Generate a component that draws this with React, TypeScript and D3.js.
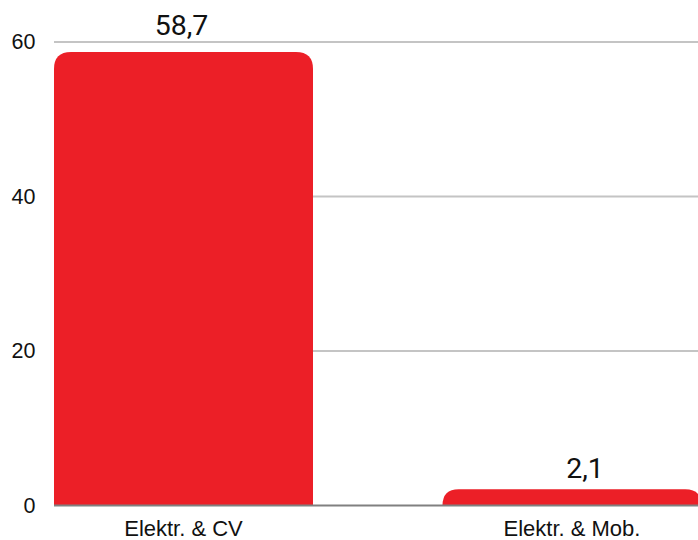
import { useMemo } from "react";
import * as d3 from "d3";

const WIDTH = 698;
const HEIGHT = 540;
const PLOT = { left: 54, right: 698, top: 42, bottom: 505.5 };
const RADIUS = 17;
const BAR_COLOR = "#ec1f27";

const categories = ["Elektr. & CV", "Elektr. & Mob."];
const values = [58.7, 2.1];
const valueLabels = ["58,7", "2,1"];
const yTicks = [0, 20, 40, 60];

// bar with rounded top corners only, radius clamped to the bar height
const topRoundedRect = (x: number, y: number, w: number, h: number, r: number) => {
  const rr = Math.min(r, h, w / 2);
  return `M${x},${y + h}V${y + rr}Q${x},${y} ${x + rr},${y}H${x + w - rr}Q${x + w},${y} ${x + w},${y + rr}V${y + h}Z`;
};

export default function App() {
  const xScale = useMemo(
    () =>
      d3
        .scaleBand<string>()
        .domain(categories)
        .range([-10.75, 766.25])
        .paddingInner(1 / 3)
        .paddingOuter(1 / 6),
    []
  );

  const yScale = useMemo(
    () => d3.scaleLinear().domain([0, 60]).range([PLOT.bottom, PLOT.top]),
    []
  );

  return (
    <svg
      width={WIDTH}
      height={HEIGHT}
      style={{ position: "absolute", left: 0, top: 0, background: "#fff" }}
    >
      {/* grid */}
      {yTicks
        .filter((t) => t !== 0)
        .map((t) => (
          <line
            key={t}
            x1={PLOT.left}
            x2={PLOT.right}
            y1={yScale(t)}
            y2={yScale(t)}
            stroke="#c4c4c4"
            strokeWidth={2}
          />
        ))}

      {/* y tick labels */}
      {yTicks.map((t) => (
        <text
          key={t}
          x={35.5}
          y={yScale(t)}
          textAnchor="end"
          dominantBaseline="central"
          fontFamily="'Liberation Sans', Arial, sans-serif"
          fontSize={21.5}
          fill="#111"
        >
          {t}
        </text>
      ))}

      {/* bars */}
      {categories.map((c, i) => {
        const x = xScale(c) ?? 0;
        const y = yScale(values[i]);
        return (
          <path
            key={c}
            d={topRoundedRect(x, y, xScale.bandwidth(), PLOT.bottom - y, RADIUS)}
            fill={BAR_COLOR}
          />
        );
      })}

      {/* baseline */}
      <line
        x1={PLOT.left}
        x2={PLOT.right}
        y1={yScale(0)}
        y2={yScale(0)}
        stroke="#808080"
        strokeWidth={2}
      />

      {/* value labels */}
      {categories.map((c, i) => (
        <text
          key={c}
          x={(xScale(c) ?? 0) + xScale.bandwidth() / 2 + (i === 1 ? 13 : -2)}
          y={yScale(values[i]) - (i === 0 ? 17 : 11)}
          textAnchor="middle"
          fontFamily="Roboto, sans-serif"
          fontSize={28.5}
          fill="#111"
        >
          {valueLabels[i]}
        </text>
      ))}

      {/* x labels */}
      {categories.map((c) => (
        <text
          key={c}
          x={(xScale(c) ?? 0) + xScale.bandwidth() / 2}
          y={536}
          textAnchor="middle"
          fontFamily="'Liberation Sans', Arial, sans-serif"
          fontSize={22}
          fill="#111"
        >
          {c}
        </text>
      ))}
    </svg>
  );
}
